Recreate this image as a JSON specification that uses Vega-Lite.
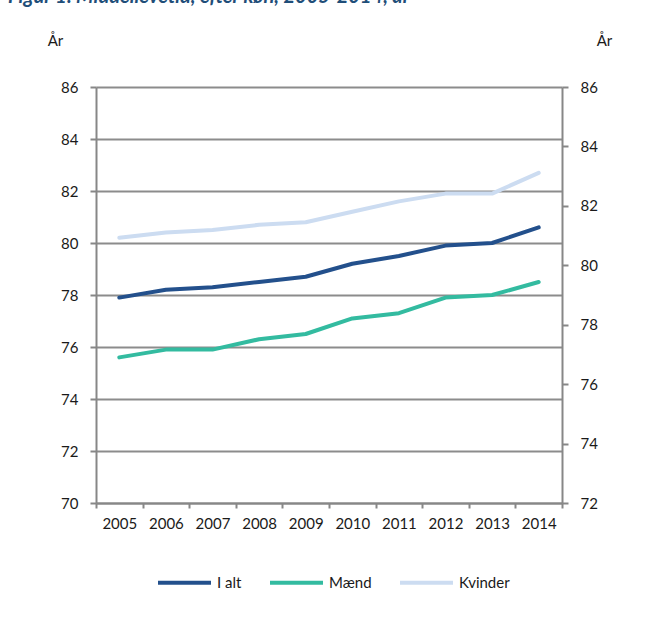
{
  "$schema": "https://vega.github.io/schema/vega-lite/v6.json",
  "width": 466,
  "height": 416,
  "autosize": {"type": "none"},
  "padding": {"left": 96, "top": 87, "right": 84, "bottom": 116},
  "background": "white",
  "title": {
    "text": "Figur 1. Middellevetid, efter køn, 2005-2014, år",
    "anchor": "start",
    "frame": "group",
    "font": "Lato",
    "fontSize": 20,
    "fontWeight": "bold",
    "fontStyle": "italic",
    "color": "#1F4E79",
    "baseline": "alphabetic",
    "offset": 0,
    "dx": -88,
    "dy": -10
  },
  "config": {
    "view": {"stroke": null},
    "font": "Lato",
    "axis": {
      "labelFont": "Lato",
      "labelFontSize": 15,
      "labelColor": "#1a1a1a",
      "titleFont": "Lato",
      "titleFontSize": 15,
      "titleFontWeight": "normal",
      "titleColor": "#1a1a1a",
      "domainColor": "#878787",
      "domainWidth": 2,
      "tickColor": "#878787",
      "tickWidth": 2,
      "tickSize": 6,
      "gridColor": "#8c8c8c",
      "gridWidth": 2
    },
    "legend": {
      "labelFont": "Lato",
      "labelFontSize": 15,
      "labelColor": "#1a1a1a"
    }
  },
  "data": {
    "values": [
      {"year": "2005", "serie": "I alt", "value": 77.9},
      {"year": "2006", "serie": "I alt", "value": 78.2},
      {"year": "2007", "serie": "I alt", "value": 78.3},
      {"year": "2008", "serie": "I alt", "value": 78.5},
      {"year": "2009", "serie": "I alt", "value": 78.7},
      {"year": "2010", "serie": "I alt", "value": 79.2},
      {"year": "2011", "serie": "I alt", "value": 79.5},
      {"year": "2012", "serie": "I alt", "value": 79.9},
      {"year": "2013", "serie": "I alt", "value": 80.0},
      {"year": "2014", "serie": "I alt", "value": 80.6},
      {"year": "2005", "serie": "Mænd", "value": 75.6},
      {"year": "2006", "serie": "Mænd", "value": 75.9},
      {"year": "2007", "serie": "Mænd", "value": 75.9},
      {"year": "2008", "serie": "Mænd", "value": 76.3},
      {"year": "2009", "serie": "Mænd", "value": 76.5},
      {"year": "2010", "serie": "Mænd", "value": 77.1},
      {"year": "2011", "serie": "Mænd", "value": 77.3},
      {"year": "2012", "serie": "Mænd", "value": 77.9},
      {"year": "2013", "serie": "Mænd", "value": 78.0},
      {"year": "2014", "serie": "Mænd", "value": 78.5},
      {"year": "2005", "serie": "Kvinder", "value": 80.2},
      {"year": "2006", "serie": "Kvinder", "value": 80.4},
      {"year": "2007", "serie": "Kvinder", "value": 80.5},
      {"year": "2008", "serie": "Kvinder", "value": 80.7},
      {"year": "2009", "serie": "Kvinder", "value": 80.8},
      {"year": "2010", "serie": "Kvinder", "value": 81.2},
      {"year": "2011", "serie": "Kvinder", "value": 81.6},
      {"year": "2012", "serie": "Kvinder", "value": 81.9},
      {"year": "2013", "serie": "Kvinder", "value": 81.9},
      {"year": "2014", "serie": "Kvinder", "value": 82.7}
    ]
  },
  "encoding": {
    "x": {
      "field": "year",
      "type": "ordinal",
      "bandPosition": 0.5,
      "scale": {"type": "band", "paddingInner": 0, "paddingOuter": 0},
      "axis": {
        "title": null,
        "labelAngle": 0,
        "tickBand": "extent",
        "labelPadding": 8,
        "tickSize": 5,
        "grid": false
      }
    }
  },
  "layer": [
    {
      "mark": {"type": "line", "strokeWidth": 4, "strokeCap": "round", "strokeJoin": "round"},
      "encoding": {
        "y": {
          "field": "value",
          "type": "quantitative",
          "scale": {"domain": [70, 86], "nice": false, "zero": false},
          "axis": {
            "orient": "left",
            "values": [70, 72, 74, 76, 78, 80, 82, 84, 86],
            "title": "År",
            "titleAngle": 0,
            "titleAlign": "center",
            "titleBaseline": "middle",
            "titleX": -41,
            "titleY": -47,
            "labelPadding": 12,
            "grid": true
          }
        },
        "color": {
          "field": "serie",
          "type": "nominal",
          "sort": ["I alt", "Mænd", "Kvinder"],
          "scale": {"domain": ["I alt", "Mænd", "Kvinder"], "range": ["#23508C", "#33BBA0", "#CCDCF1"]},
          "legend": {
            "title": null,
            "orient": "none",
            "direction": "horizontal",
            "legendX": 60,
            "legendY": 467,
            "symbolType": "stroke",
            "symbolSize": 2809,
            "symbolStrokeWidth": 4,
            "labelOffset": 4,
            "columnPadding": 20
          }
        }
      }
    },
    {
      "mark": {"type": "line", "opacity": 0},
      "encoding": {
        "y": {
          "field": "value",
          "type": "quantitative",
          "scale": {"domain": [72, 86], "nice": false, "zero": false},
          "axis": {
            "orient": "right",
            "values": [72, 74, 76, 78, 80, 82, 84, 86],
            "title": "År",
            "titleAngle": 0,
            "titleAlign": "center",
            "titleBaseline": "middle",
            "titleX": 42,
            "titleY": -47,
            "labelPadding": 12,
            "grid": false
          }
        }
      }
    }
  ],
  "resolve": {"scale": {"y": "independent"}}
}
